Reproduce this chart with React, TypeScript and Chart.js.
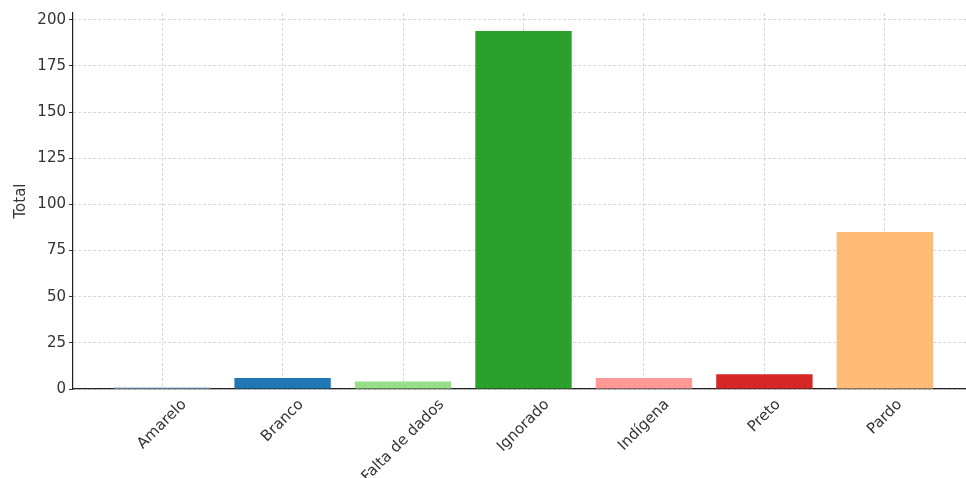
import React, { useEffect, useRef } from "react";
import { Chart, registerables } from "chart.js";

Chart.register(...registerables);

const categories = ["Amarelo", "Branco", "Falta de dados", "Ignorado", "Indígena", "Preto", "Pardo"];
const totals = [1, 6, 4, 194, 6, 8, 85];
const barColors = ["#aec7e8", "#1f77b4", "#98df8a", "#2ca02c", "#ff9896", "#d62728", "#ffbb78"];
const yTickValues = [0, 25, 50, 75, 100, 125, 150, 175, 200];
const yAxisTitle = "Total";

const FONT = '"DejaVu Sans", sans-serif';
const TEXT = "#333333";

export default function App() {
  const ref = useRef<HTMLCanvasElement>(null);

  useEffect(() => {
    const canvas = ref.current;
    if (!canvas) return;

    const labelPlugin = {
      id: "rotatedCategoryLabels",
      afterDraw(chart: any) {
        const ctx = chart.ctx;
        const xs = chart.scales.x;
        const size = 15;
        ctx.save();
        ctx.font = `${size}px ${FONT}`;
        ctx.fillStyle = TEXT;
        ctx.textAlign = "center";
        ctx.textBaseline = "middle";
        const top = chart.chartArea.bottom + 7;
        const h = size * 1.17;
        const c = Math.SQRT1_2;
        categories.forEach((label, i) => {
          const w = ctx.measureText(label).width;
          const half = ((w + h) * c) / 2;
          ctx.save();
          ctx.translate(xs.getPixelForValue(i), top + half);
          ctx.rotate(-Math.PI / 4);
          ctx.fillText(label, 0, 0);
          ctx.restore();
        });
        ctx.restore();
      },
    };

    const chart = new Chart(canvas, {
      type: "bar",
      data: {
        datasets: [
          {
            data: totals.map((v, i) => ({ x: i, y: v })),
            backgroundColor: barColors,
            borderWidth: 0,
            barPercentage: 0.8,
            categoryPercentage: 1,
          },
        ],
      },
      options: {
        responsive: false,
        maintainAspectRatio: false,
        animation: false,
        layout: { padding: { left: 8, top: 13, right: 16, bottom: 0 } },
        plugins: {
          legend: { display: false },
          tooltip: { enabled: false },
        },
        scales: {
          x: {
            type: "linear",
            min: -0.74,
            max: categories.length - 1 + 0.74,
            offset: false,
            z: 1,
            grid: {
              offset: false,
              color: "rgba(200,200,200,0.7)",
              lineWidth: 1,
              drawTicks: false,
            },
            border: { display: true, color: "#222222", width: 1.2, dash: [3, 2] },
            ticks: { display: false },
            afterBuildTicks: (axis: any) => {
              axis.ticks = categories.map((_, i) => ({ value: i }));
            },
            afterFit: (axis: any) => {
              axis.height = 89;
            },
          },
          y: {
            min: 0,
            max: 203.7,
            z: 1,
            grid: {
              color: "rgba(200,200,200,0.7)",
              lineWidth: 1,
              drawTicks: true,
              tickLength: 4,
              tickColor: "#333333",
              tickWidth: 1,
            },
            border: { display: true, color: "#222222", width: 1.2, dash: [3, 2] },
            afterBuildTicks: (axis: any) => {
              axis.ticks = yTickValues.map((v) => ({ value: v }));
            },
            ticks: {
              includeBounds: false,
              padding: 3,
              color: TEXT,
              font: { family: FONT, size: 15 },
            },
            title: {
              display: true,
              text: yAxisTitle,
              color: TEXT,
              font: { family: FONT, size: 15 },
              padding: { top: 4, bottom: 4 },
            },
            afterFit: (axis: any) => {
              axis.width = 65;
            },
          },
        },
      } as any,
      plugins: [labelPlugin],
    });

    return () => chart.destroy();
  }, []);

  return (
    <div
      style={{
        position: "fixed",
        left: 0,
        top: 0,
        width: 966,
        height: 478,
        overflow: "hidden",
        background: "#ffffff",
      }}
    >
      <canvas ref={ref} width={990} height={478} style={{ display: "block", width: 990, height: 478 }} />
    </div>
  );
}
